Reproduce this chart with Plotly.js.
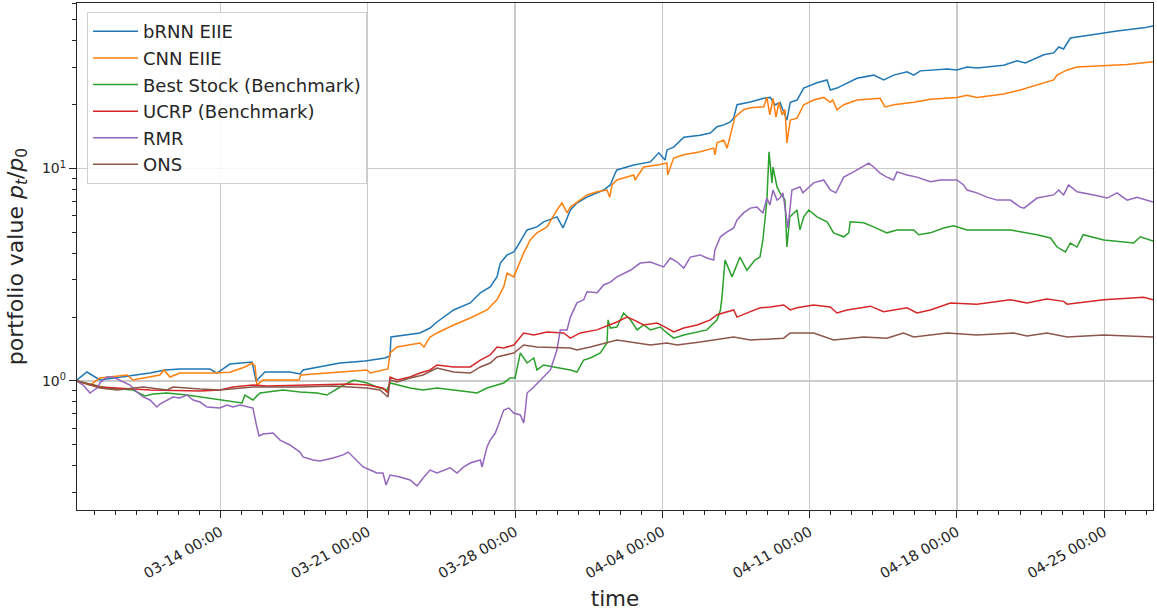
<!DOCTYPE html>
<html>
<head>
<meta charset="utf-8">
<script src="https://cdn.plot.ly/plotly-3.0.1.min.js"></script>
<style>
  html, body { margin: 0; padding: 0; background: #ffffff; }
  #chart { width: 1157px; height: 613px; }
</style>
</head>
<body>
<div id="chart"></div>
<script>
// Back-test start date; each series is a list of [days since start, p_t/p_0]
const startDate = '2017-03-07';

const seriesNames = ['bRNN EIIE', 'CNN EIIE', 'Best Stock (Benchmark)', 'UCRP (Benchmark)', 'RMR', 'ONS'];

const bRNN = [[0.18,1.011],[0.65,1.102],[1.27,1.011],[2.22,1.044],[3.65,1.090],[4.36,1.127],[5.07,1.139],[6.50,1.139],[6.83,1.090],[7.45,1.202],[8.50,1.228],[8.69,1.0],[9.11,1.102],[10.30,1.102],[10.78,1.079],[10.92,1.127],[11.73,1.164],[12.68,1.215],[13.87,1.242],[14.82,1.283],[15.06,1.311],[15.10,1.611],[16.48,1.683],[16.96,1.775],[17.29,1.895],[18.08,2.159],[18.87,2.33],[19.35,2.60],[19.82,2.77],[20.14,3.09],[20.30,3.59],[20.62,3.92],[20.94,4.05],[21.09,4.27],[21.57,5.14],[22.04,5.31],[22.36,5.61],[22.99,5.92],[23.28,5.25],[23.63,6.38],[23.94,6.88],[24.42,7.33],[25.21,7.92],[25.53,8.37],[25.76,9.52],[25.84,9.84],[26.64,10.38],[27.43,10.74],[27.83,11.85],[28.13,10.97],[28.22,12.23],[28.54,12.61],[29.02,14.03],[29.80,14.33],[30.28,14.7],[30.60,15.72],[30.92,16.04],[31.23,16.57],[31.39,17.26],[31.55,19.95],[32.18,20.54],[32.82,21.4],[33.13,21.6],[33.36,19.9],[33.59,20.5],[33.92,16.9],[34.08,20.5],[34.40,21.0],[34.72,23.9],[35.35,25.3],[35.83,26.1],[35.98,23.4],[36.30,23.9],[36.78,25.3],[37.25,26.6],[38.05,27.5],[38.52,26.1],[39.00,27.5],[39.63,28.5],[39.95,27.5],[40.26,28.8],[41.53,29.4],[42.00,29.1],[42.48,30.0],[42.95,29.7],[44.22,30.6],[44.86,32.1],[45.25,31.4],[46.13,34.3],[46.60,35.0],[46.84,37.3],[47.07,36.5],[47.39,41.1],[48.03,42.0],[48.98,43.4],[49.61,44.4],[50.88,45.9],[51.32,46.9]];

const CNN = [[0.18,1.0],[0.80,0.957],[1.27,1.033],[2.56,1.067],[2.84,1.011],[4.12,1.067],[4.31,1.127],[4.60,1.044],[5.07,1.09],[6.64,1.09],[7.45,1.10],[8.16,1.164],[8.50,1.215],[8.64,1.177],[8.73,0.957],[9.02,1.011],[9.69,1.011],[10.73,1.011],[10.82,1.067],[12.35,1.10],[13.96,1.127],[14.11,1.09],[14.96,1.139],[15.06,1.355],[15.39,1.445],[16.48,1.51],[16.67,1.445],[16.96,1.611],[17.29,1.683],[18.08,1.835],[18.87,1.98],[19.67,2.159],[20.14,2.41],[20.46,2.77],[20.62,3.22],[20.94,3.09],[21.25,3.71],[21.41,4.0],[21.72,4.61],[22.04,4.98],[22.52,5.31],[22.99,6.38],[23.23,6.88],[23.47,6.18],[23.63,6.58],[24.10,7.1],[24.42,7.51],[24.90,7.77],[25.37,7.92],[25.50,7.33],[25.61,8.37],[25.84,8.83],[26.64,9.32],[26.70,8.83],[27.11,10.16],[27.75,10.38],[28.22,10.6],[28.25,9.32],[28.54,11.2],[29.02,11.6],[29.80,11.98],[30.44,12.47],[30.50,11.6],[30.60,13.2],[30.92,13.6],[31.08,12.47],[31.31,15.2],[31.45,17.45],[31.86,18.9],[32.18,19.3],[32.82,19.5],[32.97,21.6],[33.11,17.9],[33.26,21.4],[33.40,17.45],[33.54,20.5],[33.69,17.9],[33.83,18.9],[33.92,13.2],[34.08,16.9],[34.40,17.26],[34.72,19.95],[35.19,21.0],[35.67,21.6],[35.98,20.5],[36.10,21.0],[36.30,18.9],[36.62,19.95],[37.25,21.0],[38.35,21.4],[38.58,19.5],[39.00,19.95],[39.95,20.5],[40.74,21.2],[42.00,21.6],[42.48,22.1],[42.95,21.6],[44.22,22.4],[45.01,23.4],[45.33,23.9],[46.13,25.3],[46.60,26.1],[46.76,27.5],[47.24,29.1],[47.71,30.0],[48.98,30.6],[50.09,30.9],[51.32,31.8]];

const bestStock = [[0.18,1.0],[1.08,0.957],[1.60,0.927],[2.84,0.907],[3.41,0.85],[3.79,0.868],[4.46,0.878],[5.41,0.859],[6.03,0.841],[6.97,0.814],[8.02,0.788],[8.16,0.859],[8.54,0.814],[8.88,0.878],[9.21,0.888],[9.97,0.907],[10.78,0.888],[11.59,0.878],[12.06,0.859],[12.68,0.937],[13.34,1.011],[13.96,0.979],[14.44,0.937],[14.91,0.907],[15.06,0.979],[16.01,0.927],[16.63,0.907],[17.29,0.927],[18.86,0.888],[19.19,0.878],[19.67,0.927],[20.46,0.979],[20.76,1.033],[21.0,1.033],[21.18,1.255],[21.25,1.355],[21.57,1.215],[21.89,1.283],[22.04,1.127],[22.36,1.19],[22.84,1.164],[23.63,1.127],[23.94,1.102],[24.26,1.255],[24.58,1.283],[25.05,1.355],[25.37,1.51],[25.42,1.94],[25.53,1.775],[25.84,1.795],[26.16,2.09],[26.48,1.94],[26.80,1.74],[27.11,1.835],[27.43,1.74],[27.90,1.795],[28.22,1.683],[28.54,1.59],[29.02,1.647],[29.65,1.70],[30.12,1.74],[30.60,1.94],[30.76,2.159],[30.84,2.51],[30.98,3.71],[31.31,3.09],[31.69,3.83],[32.02,3.32],[32.40,3.71],[32.64,3.83],[32.78,4.61],[32.97,7.10],[33.07,11.98],[33.21,8.56],[33.26,10.16],[33.45,8.19],[33.59,7.68],[33.83,7.10],[33.92,4.27],[34.06,5.92],[34.40,6.38],[34.54,5.14],[34.72,5.92],[34.96,6.38],[35.35,5.92],[35.83,5.61],[36.14,4.98],[36.62,4.77],[36.86,4.98],[36.93,5.61],[37.57,5.55],[38.04,5.31],[38.67,4.98],[39.15,5.14],[39.95,5.14],[40.18,4.88],[40.74,4.98],[41.37,5.25],[41.85,5.37],[42.48,5.14],[42.95,5.14],[44.54,5.14],[45.81,4.88],[46.45,4.71],[46.76,4.27],[47.16,4.05],[47.39,4.46],[47.71,4.27],[48.0,4.88],[48.98,4.61],[50.40,4.46],[50.72,4.77],[51.32,4.56]];

const UCRP = [[0.18,1.0],[1.27,0.937],[2.84,0.917],[3.65,0.907],[6.03,0.897],[6.97,0.907],[7.59,0.937],[8.54,0.957],[9.21,0.947],[10.78,0.957],[12.35,0.968],[13.16,0.968],[13.96,0.957],[14.72,0.927],[14.96,0.878],[15.06,1.044],[15.39,1.011],[16.01,1.044],[16.48,1.09],[16.96,1.127],[17.29,1.19],[18.08,1.164],[18.87,1.164],[19.35,1.255],[19.82,1.326],[20.14,1.445],[20.46,1.43],[20.94,1.477],[21.41,1.683],[21.89,1.647],[22.52,1.70],[23.31,1.683],[23.63,1.59],[24.10,1.683],[24.89,1.74],[25.84,1.895],[26.32,1.998],[26.64,1.94],[27.11,1.835],[27.75,1.875],[28.22,1.775],[28.54,1.70],[29.02,1.775],[29.65,1.835],[30.28,1.94],[30.60,2.05],[31.39,2.159],[31.55,1.998],[32.18,2.12],[32.66,2.21],[33.13,2.23],[33.77,2.28],[34.08,2.159],[34.40,2.21],[35.19,2.28],[35.98,2.23],[36.30,2.09],[36.78,2.159],[37.89,2.25],[38.52,2.12],[39.63,2.21],[40.10,2.09],[40.74,2.159],[41.69,2.33],[42.95,2.30],[44.54,2.41],[45.33,2.33],[46.28,2.43],[47.07,2.37],[47.24,2.30],[48.98,2.41],[50.88,2.48],[51.32,2.41]];

const RMR = [[0.18,1.0],[0.47,0.957],[0.80,0.878],[1.13,0.927],[1.27,0.979],[1.60,1.044],[1.89,1.044],[2.22,1.011],[2.70,0.957],[3.03,0.888],[3.32,0.841],[3.65,0.814],[3.98,0.754],[4.12,0.779],[4.46,0.814],[4.74,0.841],[5.07,0.832],[5.41,0.859],[5.70,0.814],[6.03,0.796],[6.36,0.754],[6.97,0.746],[7.31,0.771],[7.59,0.754],[7.93,0.771],[8.54,0.746],[8.73,0.607],[8.83,0.551],[9.02,0.563],[9.50,0.569],[9.83,0.527],[10.30,0.50],[10.78,0.463],[10.92,0.439],[11.40,0.425],[11.73,0.420],[12.35,0.434],[12.83,0.449],[13.07,0.463],[13.30,0.439],[13.78,0.394],[14.11,0.381],[14.44,0.369],[14.72,0.369],[14.87,0.324],[15.06,0.361],[15.53,0.353],[16.01,0.342],[16.34,0.321],[16.67,0.353],[16.96,0.381],[17.29,0.369],[17.61,0.381],[17.92,0.39],[18.24,0.369],[18.56,0.394],[18.87,0.411],[19.35,0.425],[19.43,0.394],[19.67,0.491],[19.82,0.527],[20.06,0.569],[20.22,0.626],[20.46,0.73],[20.70,0.746],[20.94,0.707],[21.25,0.692],[21.41,0.634],[21.49,0.73],[21.57,0.878],[21.89,0.937],[22.20,1.011],[22.68,1.127],[22.99,1.399],[23.15,1.74],[23.47,1.74],[23.63,1.998],[23.94,2.33],[24.26,2.41],[24.42,2.63],[24.90,2.60],[25.21,2.83],[25.53,2.92],[25.84,3.09],[26.48,3.32],[26.95,3.59],[27.43,3.63],[28.06,3.44],[28.38,3.79],[28.70,3.63],[29.02,3.40],[29.33,3.83],[29.80,3.92],[30.12,3.79],[30.44,3.71],[30.50,4.14],[30.76,4.77],[31.08,5.03],[31.39,5.25],[31.55,5.73],[31.86,6.18],[32.18,6.51],[32.50,6.58],[32.78,6.18],[32.97,7.26],[33.11,6.73],[33.26,7.92],[33.45,7.10],[33.59,7.26],[33.73,7.68],[33.97,5.25],[34.16,7.92],[34.54,8.19],[34.68,7.68],[35.19,8.56],[35.67,8.83],[35.98,7.92],[36.25,7.68],[36.62,9.11],[37.09,9.64],[37.81,10.6],[38.04,10.16],[38.35,9.52],[38.67,9.11],[38.99,8.83],[39.15,9.64],[39.63,9.32],[40.10,9.11],[40.74,8.66],[41.21,8.83],[42.00,8.83],[42.32,8.37],[42.48,7.92],[42.95,7.68],[43.43,7.33],[43.90,7.10],[44.54,7.10],[45.01,6.58],[45.19,6.51],[45.81,7.26],[46.60,7.51],[46.84,7.92],[47.07,7.51],[47.31,8.37],[47.71,7.77],[48.51,7.51],[49.14,7.26],[49.61,7.68],[50.09,7.10],[50.56,7.33],[51.32,6.96]];

const ONS = [[0.18,1.0],[1.27,0.927],[2.08,0.907],[3.32,0.937],[4.46,0.907],[4.74,0.937],[6.03,0.917],[6.97,0.907],[8.54,0.937],[10.78,0.937],[12.35,0.947],[13.96,0.927],[14.58,0.907],[14.96,0.841],[15.06,1.011],[15.39,0.989],[16.01,1.033],[16.63,1.067],[17.29,1.151],[18.08,1.102],[18.87,1.09],[19.35,1.164],[19.82,1.215],[20.14,1.297],[20.94,1.355],[21.41,1.477],[22.04,1.445],[23.63,1.43],[23.94,1.399],[24.58,1.445],[25.84,1.558],[27.43,1.477],[28.22,1.51],[28.70,1.477],[29.80,1.525],[31.39,1.611],[32.18,1.558],[33.77,1.59],[34.08,1.683],[35.19,1.683],[36.14,1.558],[37.57,1.611],[38.67,1.59],[39.46,1.683],[39.95,1.611],[41.53,1.683],[42.95,1.647],[44.70,1.683],[45.33,1.63],[46.28,1.683],[47.24,1.611],[48.98,1.647],[51.32,1.611]];

const yTickVals = [1, 10];
const yTickText = ['10<sup>0</sup>', '10<sup>1</sup>'];
const yMinorVals = [0.3,0.4,0.5,0.6,0.7,0.8,0.9,2,3,4,5,6,7,8,9,20,30,40,50,60];
const firstMajorTick = '2017-03-14';

const colors = ['#1f77b4', '#ff7f0e', '#2ca02c', '#d62728', '#9467bd', '#8c564b'];
const allSeries = [bRNN, CNN, bestStock, UCRP, RMR, ONS];

const DAY = 86400000;
const base = Date.parse(startDate + 'T00:00:00Z');
function toDate(d) {
  return new Date(base + d * DAY).toISOString().replace('T', ' ').replace('Z', '');
}

let tMin = Infinity, tMax = -Infinity;
const traces = allSeries.map((s, i) => {
  s.forEach(p => { tMin = Math.min(tMin, p[0]); tMax = Math.max(tMax, p[0]); });
  return {
    type: 'scatter',
    mode: 'lines',
    name: seriesNames[i],
    legendgroup: 'g' + i,
    x: s.map(p => toDate(p[0])),
    y: s.map(p => p[1]),
    line: { color: colors[i], width: 1.5 },
    hoverinfo: 'skip'
  };
});

const dark = '#262626';
const font = 'DejaVu Sans, sans-serif';

const layout = {
  width: 1157,
  height: 613,
  margin: { l: 77, r: 4, t: 3, b: 103 },
  paper_bgcolor: '#ffffff',
  plot_bgcolor: '#ffffff',
  font: { family: font, color: dark },
  showlegend: true,
  legend: {
    x: 0.0093, y: 0.982, xanchor: 'left', yanchor: 'top',
    bgcolor: 'rgba(255,255,255,0.85)',
    bordercolor: '#d0d0d0', borderwidth: 1,
    font: { family: font, size: 18, color: dark },
    tracegroupgap: 0.2,
    itemwidth: 45,
    traceorder: 'grouped'
  },
  xaxis: {
    type: 'date',
    range: [toDate(tMin), toDate(tMax)],
    tick0: firstMajorTick,
    dtick: 7 * DAY,
    tickformat: '%m-%d %H:%M',
    tickangle: -30,
    ticks: 'outside', ticklen: 7, tickwidth: 1, tickcolor: dark,
    tickfont: { family: font, size: 14.5, color: dark },
    showline: true, linecolor: dark, linewidth: 1.25, mirror: true,
    showgrid: true, gridcolor: '#cbcbcb', gridwidth: 1.2,
    zeroline: false,
    minor: { dtick: DAY, tick0: startDate, ticks: 'outside', ticklen: 3.5, tickwidth: 1, tickcolor: dark, showgrid: false },
    title: { text: 'time', font: { family: font, size: 21.5, color: dark }, standoff: 10 }
  },
  yaxis: {
    type: 'log',
    range: [-0.6071, 1.7788],
    tickmode: 'array',
    tickvals: yTickVals,
    ticktext: yTickText,
    ticks: 'outside', ticklen: 7, tickwidth: 1, tickcolor: dark,
    tickfont: { family: font, size: 14, color: dark },
    showline: true, linecolor: dark, linewidth: 1.25, mirror: true,
    showgrid: true, gridcolor: '#cbcbcb', gridwidth: 1.2,
    zeroline: false,
    minor: { tickmode: 'array', tickvals: yMinorVals, ticks: 'outside', ticklen: 3.5, tickwidth: 1, tickcolor: dark, showgrid: false },
    title: { text: 'portfolio value <i>p</i><sub><i>t</i></sub>/<i>p</i><sub>0</sub>', font: { family: font, size: 22, color: dark }, standoff: 12 }
  }
};

Plotly.newPlot('chart', traces, layout, { staticPlot: true, displayModeBar: false });
</script>
</body>
</html>
